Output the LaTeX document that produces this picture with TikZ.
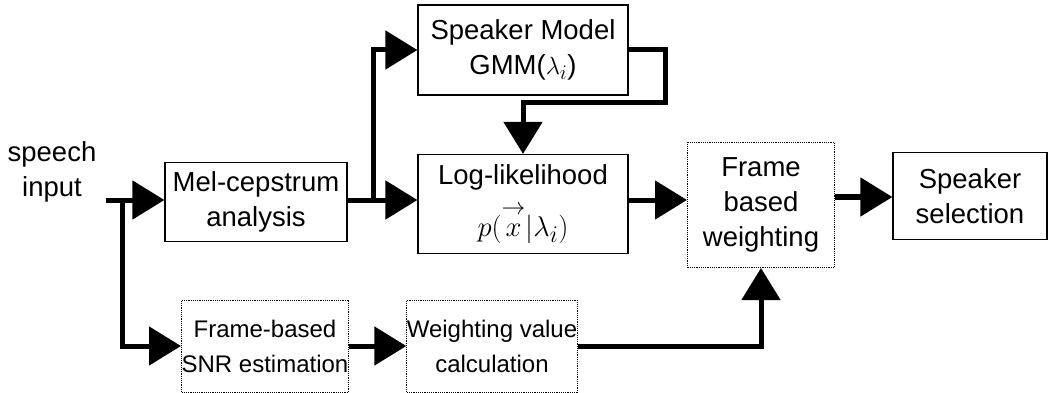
\documentclass[tikz,border=0pt]{standalone}
\usepackage{amsmath}
\usepackage{fontspec}
\setmainfont{Liberation Sans}
\usepackage{tikz}
\usetikzlibrary{arrows.meta}

\begin{document}
\begin{tikzpicture}[x=1pt, y=-1pt,
  box/.style = {draw, line width=1.2pt, inner sep=0pt, align=center},
  dotbox/.style = {box, densely dotted, line width=1pt},
  small/.style = {font=\fontsize{24}{35}\selectfont},
  arr/.style = {line width=5pt, -{Triangle[length=32pt, width=38pt]}},
  font=\fontsize{27.5}{35}\selectfont]
\useasboundingbox (0,0) rectangle (1050,393);

%% blocks
\node[align=center] (input) at (52,172) {speech\\input};
\node[box, minimum width=182pt, minimum height=79pt] (mel) at (256,202) {Mel-cepstrum\\analysis};
\node[box, minimum width=210pt, minimum height=90pt] (spk) at (523,50) {Speaker Model\\GMM($\lambda_i$)};
\node[box, minimum width=210pt, minimum height=99pt] (loglik) at (523,204)
  {Log-likelihood\\[12pt]\scalebox{1.15}{$p(\overset{\raisebox{3pt}{$\scriptstyle\rightarrow$}}{x}|\lambda_i)$}};
\node[dotbox, minimum width=147pt, minimum height=125pt] (fbw) at (761,205) {Frame\\based\\weighting};
\node[box, minimum width=154pt, minimum height=87pt] (sel) at (970,196) {Speaker\\selection};
\node[dotbox, small, minimum width=167pt, minimum height=92pt] (snr) at (265,346) {Frame-based\\SNR estimation};
\node[dotbox, small, minimum width=170pt, minimum height=92pt] (wval) at (492,346) {Weighting value\\calculation};

%% branch points
\coordinate (src) at (106,200);
\coordinate (split) at (122,200);
\coordinate (tap) at (373,200);
\coordinate (out) at (628,200);
\coordinate (fout) at (835,197);

%%% connectors
\draw[arr] (src) -- (src -| mel.west);
\draw[arr, shorten <=-2.5pt] (split) |- (snr.west);
\draw[arr] (mel.east |- tap) -- (tap -| loglik.west);
\draw[arr, shorten <=-2.5pt] (tap) |- (spk.west);
\draw[arr] (spk.east) -- ++(37,0) -- ++(0,53) -| (loglik.north);
\draw[arr] (out) -- (out -| fbw.west);
\draw[arr] (fout) -- (fout -| sel.west);
\draw[arr] (snr.east) -- (wval.west);
\draw[arr] (wval.east) -| (fbw.south);

\end{tikzpicture}
\end{document}
